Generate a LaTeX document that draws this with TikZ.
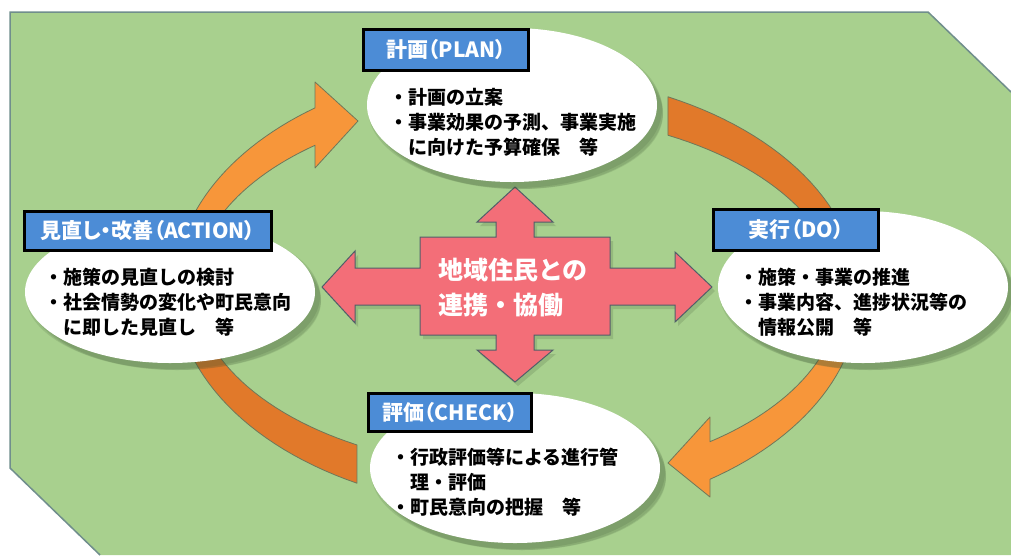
\documentclass[tikz,border=0pt]{standalone}
\usepackage{fontspec}
\setmainfont{Noto Sans CJK JP}
\newfontfamily\jp{Noto Sans CJK JP}
\newfontfamily\jpp[RawFeature=+palt]{Noto Sans CJK JP}
\usetikzlibrary{shapes.geometric}
\definecolor{bggreen}{RGB}{168,208,142}
\definecolor{bgline}{RGB}{112,142,140}
\definecolor{orgdark}{RGB}{225,121,42}
\definecolor{orglight}{RGB}{247,150,58}
\definecolor{orgline}{RGB}{110,120,90}
\definecolor{crossred}{RGB}{243,110,120}
\definecolor{crossline}{RGB}{80,95,105}
\definecolor{titleblue}{RGB}{76,140,214}
\definecolor{shadowc}{RGB}{60,85,50}
\begin{document}
\begin{tikzpicture}[x=1pt,y=-1pt,
  ell/.style={ellipse, fill=white, inner sep=0pt},
  ttl/.style={draw=black, line width=2.8pt, fill=titleblue, text=white,
    font=\jpp\bfseries\fontsize{21}{24}\selectfont, inner sep=0pt},
  body/.style={align=left, anchor=north west, inner sep=0pt,
    font=\jp\bfseries\fontsize{19}{25}\selectfont, text=black},
  arrowpart/.style={draw=orgline, line width=0.8pt, line join=round},
  shd/.style={fill=shadowc, opacity=0.15}
]
\useasboundingbox (0,0) rectangle (1011,555);
\fill[white] (0,0) rectangle (1011,555);
% background
\fill[bggreen] (10,12) -- (928,12) -- (1011,92) -- (1011,555) -- (100,555) -- (10,468) -- cycle;
\draw[bgline, line width=1.5pt, line join=miter] (1011,92) -- (928,12) -- (10,12) -- (10,468) -- (100,555);

% orange arrow 1 (CHECK -> ACTION -> PLAN)
\filldraw[arrowpart, fill=orgdark]
  plot[domain=117.9:180, samples=30, variable=\t] ({517+342*cos(\t)},{287+222*sin(\t)})
  -- plot[domain=180:119.8, samples=30, variable=\t] ({517+322*cos(\t)},{287+182*sin(\t)}) -- cycle;
\filldraw[arrowpart, fill=orglight]
  plot[domain=180:233.8, samples=30, variable=\t] ({517+342*cos(\t)},{287+222*sin(\t)})
  -- (315,82) -- (358,121) -- (315,168)
  -- plot[domain=231.15:180, samples=30, variable=\t] ({517+322*cos(\t)},{287+182*sin(\t)}) -- cycle;
% orange arrow 2 (PLAN -> DO -> CHECK)
\filldraw[arrowpart, fill=orgdark]
  plot[domain=-63.8:0, samples=30, variable=\t] ({517+342*cos(\t)},{296+222*sin(\t)})
  -- plot[domain=0:-62.04, samples=30, variable=\t] ({517+322*cos(\t)},{296+182*sin(\t)}) -- cycle;
\filldraw[arrowpart, fill=orglight]
  plot[domain=0:55.64, samples=30, variable=\t] ({517+342*cos(\t)},{296+222*sin(\t)})
  -- (710,497) -- (668,463) -- (710,417)
  -- plot[domain=53.18:0, samples=30, variable=\t] ({517+322*cos(\t)},{296+182*sin(\t)}) -- cycle;

% central cross
\def\crosspath{(515,187) -- (553,222) -- (534,222) -- (534,237) -- (610,237) -- (610,268) -- (675,268) -- (675,252) -- (712,287) -- (675,322) -- (675,305) -- (610,305) -- (610,335) -- (534,335) -- (534,350) -- (553,350) -- (515,382) -- (477,350) -- (496,350) -- (496,335) -- (420,335) -- (420,305) -- (355,305) -- (355,323) -- (322,287) -- (355,251) -- (355,268) -- (420,268) -- (420,237) -- (496,237) -- (496,222) -- (477,222) -- cycle}
\fill[shadowc, opacity=0.18, shift={(3,4)}] \crosspath;
\filldraw[fill=crossred, draw=crossline, line width=1pt, line join=miter] \crosspath;
\node[anchor=north west, align=left, inner sep=0pt, text=white,
  font=\jp\bfseries\fontsize{25}{35}\selectfont] (center) at (438,258) {地域住民との\\連携・協働};

% ellipse shadows
\foreach \cx/\cy/\rx/\ry in {512/105/145/77, 170/292/145/71, 863/287/145/76, 515/468/145/75}{
  \fill[shd] (\cx+3,\cy+4) ellipse [x radius=\rx pt+2pt, y radius=\ry pt+2pt];
  \fill[shd] (\cx+6,\cy+7) ellipse [x radius=\rx pt, y radius=\ry pt];
  \fill[shd] (\cx+8,\cy+9) ellipse [x radius=\rx pt-2pt, y radius=\ry pt-2pt];
}
% ellipses
\node[ell, minimum width=290pt, minimum height=154pt] (planell) at (512,105) {};
\node[ell, minimum width=290pt, minimum height=142pt] (actell) at (170,292) {};
\node[ell, minimum width=290pt, minimum height=152pt] (doell) at (863,287) {};
\node[ell, minimum width=290pt, minimum height=150pt] (checkell) at (515,468) {};

% titles
\node[ttl, minimum width=165pt, minimum height=41pt] (plan) at (446,50) {計画（PLAN）};
\node[ttl, minimum width=247pt, minimum height=39pt] (action) at (148,231) {見直し・改善（ACTION）};
\node[ttl, minimum width=165pt, minimum height=41pt] (do) at (796,230) {実行（DO）};
\node[ttl, minimum width=163pt, minimum height=38pt] (check) at (450,412.5) {評価（CHECK）};

% body texts
\node[body] (planbody) at (389,88) {・計画の立案\\・事業効果の予測、事業実施\\\phantom{・}に向けた予算確保　等};
\node[body] (actbody) at (44,268) {・施策の見直しの検討\\・社会情勢の変化や町民意向\\\phantom{・}に即した見直し　等};
\node[body] (dobody) at (739,268) {・施策・事業の推進\\・事業内容、進捗状況等の\\\phantom{・}情報公開　等};
\node[body] (checkbody) at (391,448) {・行政評価等による進行管\\\phantom{・}理・評価\\・町民意向の把握　等};
\end{tikzpicture}
\end{document}
